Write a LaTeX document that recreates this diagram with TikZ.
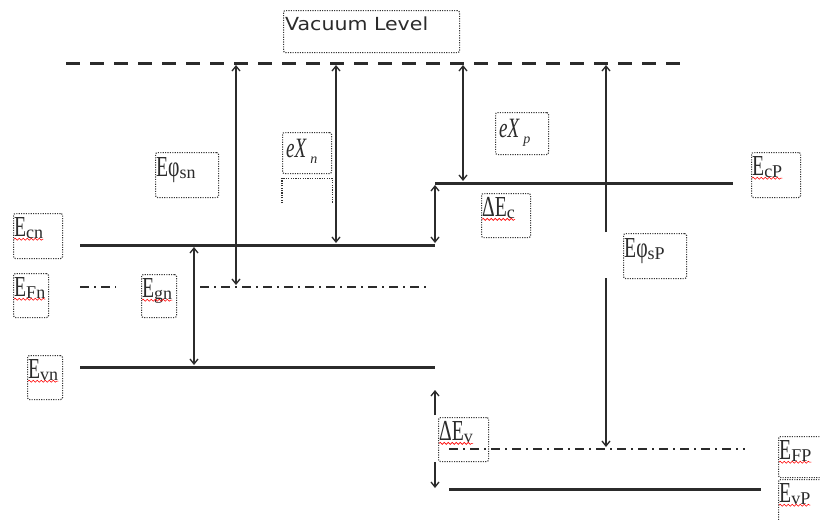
\documentclass[tikz,border=0pt]{standalone}
\usepackage{fontspec}
\setmainfont{Liberation Serif}
\newfontfamily\lblf[FakeStretch=0.68]{Liberation Serif}
\newfontfamily\vacf[FakeStretch=1.14]{DejaVu Sans}
\usetikzlibrary{arrows.meta,decorations.pathmorphing}
\definecolor{ink}{HTML}{2B2B2B}
\newcommand\Lt[2]{{\lblf\fontsize{29}{32}\selectfont #1}\raisebox{-2pt}{\fontsize{18}{18}\selectfont #2}}
\newcommand\Xt[1]{{\lblf\itshape\fontsize{28}{30}\selectfont eX}\hspace{4pt}\raisebox{-6pt}{\fontsize{14}{14}\selectfont\itshape #1}}
\begin{document}
\begin{tikzpicture}[x=1pt,y=-1pt,
  lvl/.style={line width=3pt, draw=ink},
  dd/.style={line width=2pt, draw=ink, dash pattern=on 9pt off 5pt on 2pt off 5pt},
  vac/.style={line width=3pt, draw=ink, dash pattern=on 14pt off 10pt},
  dim/.style={line width=1.3pt, draw=ink, {Straight Barb[length=5pt,width=8pt]}-{Straight Barb[length=5pt,width=8pt]}},
  tipend/.style={line width=1.3pt, draw=ink, -{Straight Barb[length=5pt,width=8pt]}},
  dbox/.style={draw=black!80, line width=1.1pt, dash pattern=on 1.1pt off 1.3pt, rounded corners=2pt, anchor=north west, inner sep=0pt},
  txt/.style={anchor=north west, inner sep=0pt, text=ink},
  squig/.style={draw=red, line width=0.6pt, decorate, decoration={snake, segment length=4pt, amplitude=1pt}}
]
\path[use as bounding box, fill=white] (0,0) rectangle (820,520);

% ---- level coordinates
\coordinate (vacL) at (66,63);   \coordinate (vacR) at (690,63);
\coordinate (ecnL) at (80,245);  \coordinate (ecnR) at (435,245);
\coordinate (ecpL) at (435,183); \coordinate (ecpR) at (733,183);
\coordinate (efnL) at (80,287);  \coordinate (efnA) at (116,287);
\coordinate (efnB) at (200,287); \coordinate (efnR) at (430,287);
\coordinate (evnL) at (80,367);  \coordinate (evnR) at (435,367);
\coordinate (efpL) at (449,449); \coordinate (efpR) at (745,449);
\coordinate (evpL) at (449,489); \coordinate (evpR) at (761,489);

% ---- levels
\draw[vac] (vacL) -- (vacR);
\draw[lvl] (ecnL) -- (ecnR);
\draw[lvl] (ecpL) -- (ecpR);
\draw[dd] (efnL) -- (efnA);
\draw[dd] (efnB) -- (efnR);
\draw[lvl] (evnL) -- (evnR);
\draw[dd] (efpL) -- (efpR);
\draw[lvl] (evpL) -- (evpR);

% ---- arrow end coordinates
\coordinate (a1t) at (236,65);  \coordinate (a1b) at (236,285);
\coordinate (a2t) at (336,65);  \coordinate (a2b) at (336,243);
\coordinate (a3t) at (463,65);  \coordinate (a3b) at (463,181);
\coordinate (a4t) at (606,65);  \coordinate (a4m) at (606,232);
\coordinate (a4n) at (606,278); \coordinate (a4b) at (606,447);
\coordinate (ect) at (435,185); \coordinate (ecb) at (435,243);
\coordinate (egt) at (194,247); \coordinate (egb) at (194,365);
\coordinate (evt) at (435,390); \coordinate (evu) at (435,415);
\coordinate (evd) at (435,462); \coordinate (evb) at (435,488);

\draw[dim] (a1t) -- (a1b);
\draw[dim] (a2t) -- (a2b);
\draw[dim] (a3t) -- (a3b);
\draw[tipend] (a4m) -- (a4t);
\draw[tipend] (a4n) -- (a4b);
\draw[dim] (ect) -- (ecb);
\draw[dim] (egt) -- (egb);
\draw[tipend] (evu) -- (evt);
\draw[tipend] (evd) -- (evb);

% ---- label boxes
\node[dbox, minimum width=176pt, minimum height=42pt] (vacB) at (283,10) {};
\node[txt] (vacT) at ([xshift=2pt,yshift=-7pt]vacB.north west) {\vacf\fontsize{18}{20}\selectfont Vacuum Level};

\node[dbox, minimum width=49pt, minimum height=45pt] (ecnB) at (13,213) {};
\node[txt] (ecnT) at ([xshift=1pt,yshift=-4pt]ecnB.north west) {\Lt{E}{cn}};
\node[dbox, minimum width=35pt, minimum height=44pt] (efnB2) at (13,273) {};
\node[txt] (efnT) at ([xshift=1pt,yshift=-4pt]efnB2.north west) {\Lt{E}{Fn}};
\node[dbox, minimum width=35pt, minimum height=44pt] (evnB) at (27,355) {};
\node[txt] (evnT) at ([xshift=1pt,yshift=-4pt]evnB.north west) {\Lt{E}{vn}};
\node[dbox, minimum width=63pt, minimum height=45pt] (esnB) at (155,152) {};
\node[txt] (esnT) at ([xshift=1pt,yshift=-5pt]esnB.north west) {\Lt{Eφ}{sn}};
\node[dbox, minimum width=49pt, minimum height=41pt] (exnB) at (282,132) {};
\node[txt] (exnT) at ([xshift=4pt,yshift=-7pt]exnB.north west) {\Xt{n}};
\coordinate (exnA) at ([yshift=-4pt]exnB.south west);
\coordinate (exnC) at ([yshift=-4pt]exnB.south east);
\draw[draw=black!80, line width=1.1pt, dash pattern=on 1.1pt off 1.3pt]
  ([yshift=-29pt]exnB.south west) -- (exnA) -- (exnC) -- ([yshift=-29pt]exnB.south east);
\node[dbox, minimum width=35pt, minimum height=43pt] (egnB) at (141,274) {};
\node[txt] (egnT) at ([xshift=1pt,yshift=-4pt]egnB.north west) {\Lt{E}{gn}};
\node[dbox, minimum width=53pt, minimum height=42pt] (expB) at (495,112) {};
\node[txt] (expT) at ([xshift=4pt,yshift=-7pt]expB.north west) {\Xt{p}};
\node[dbox, minimum width=49pt, minimum height=44pt] (decB) at (481,193) {};
\node[txt] (decT) at ([xshift=1pt,yshift=-4pt]decB.north west) {\Lt{ΔE}{c}};
\node[dbox, minimum width=49pt, minimum height=45pt] (ecpB) at (751,152) {};
\node[txt] (ecpT) at ([xshift=1pt,yshift=-4pt]ecpB.north west) {\Lt{E}{cP}};
\node[dbox, minimum width=63pt, minimum height=45pt] (espB) at (623,233) {};
\node[txt] (espT) at ([xshift=1pt,yshift=-5pt]espB.north west) {\Lt{Eφ}{sP}};
\node[dbox, minimum width=50pt, minimum height=44pt] (devB) at (438,417) {};
\node[txt] (devT) at ([xshift=1pt,yshift=-4pt]devB.north west) {\Lt{ΔE}{v}};
\node[dbox, minimum width=50pt, minimum height=41pt] (efpB) at (778,436) {};
\node[txt] (efpT) at ([xshift=1pt,yshift=-4pt]efpB.north west) {\Lt{E}{FP}};
\node[dbox, minimum width=50pt, minimum height=45pt] (evpB) at (778,479) {};
\node[txt] (evpT) at ([xshift=1pt,yshift=-4pt]evpB.north west) {\Lt{E}{vP}};

% ---- spell-check squiggles
\foreach \t in {ecnT,efnT,evnT,egnT,decT,ecpT,devT,efpT,evpT}
  \draw[squig] ([yshift=-3pt]\t.base west) -- ([yshift=-3pt]\t.base east);
\end{tikzpicture}
\end{document}
